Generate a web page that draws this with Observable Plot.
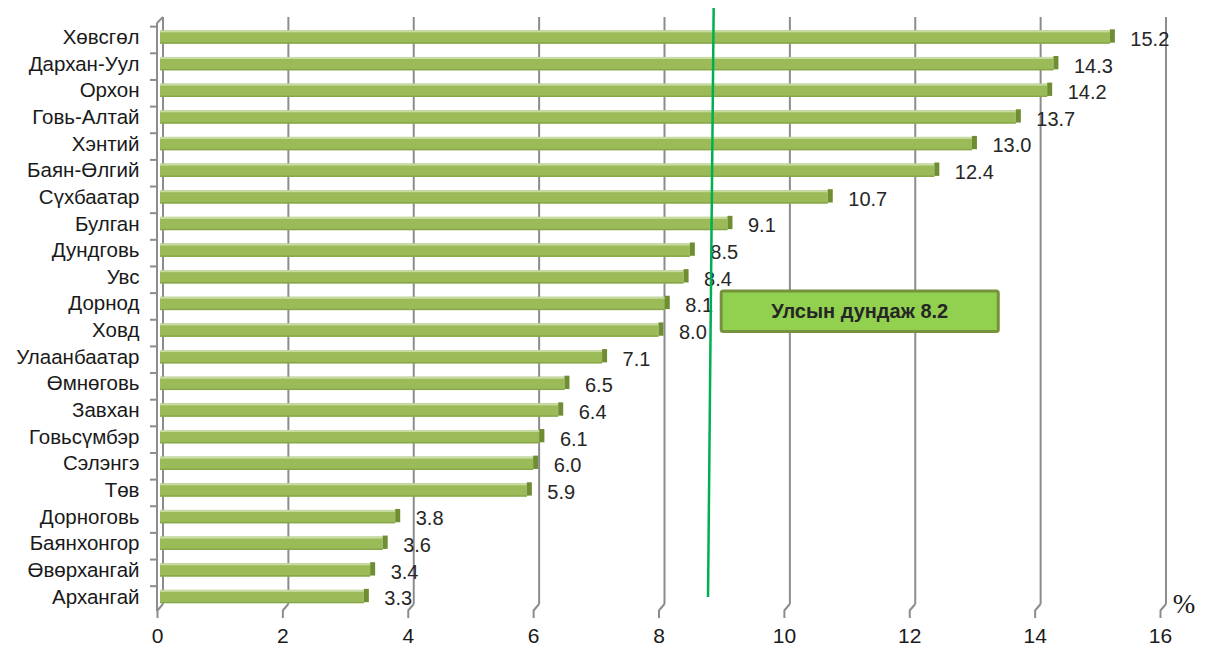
<!DOCTYPE html>
<html>
<head>
<meta charset="utf-8">
<script src="https://cdn.jsdelivr.net/npm/d3@7"></script>
<script src="https://cdn.jsdelivr.net/npm/@observablehq/plot@0.6"></script>
<style>
  html, body { margin: 0; padding: 0; background: #fff; }
  svg { display: block; }
</style>
</head>
<body>
<div id="chart"></div>
<script>
const regions = ["Хөвсгөл","Дархан-Уул","Орхон","Говь-Алтай","Хэнтий","Баян-Өлгий","Сүхбаатар","Булган","Дундговь","Увс","Дорнод","Ховд","Улаанбаатар","Өмнөговь","Завхан","Говьсүмбэр","Сэлэнгэ","Төв","Дорноговь","Баянхонгор","Өвөрхангай","Архангай"];
const values = [15.2,14.3,14.2,13.7,13.0,12.4,10.7,9.1,8.5,8.4,8.1,8.0,7.1,6.5,6.4,6.1,6.0,5.9,3.8,3.6,3.4,3.3];
const xTicks = [0,2,4,6,8,10,12,14,16];
const averageValue = 8.2;
const averageLabel = "Улсын дундаж " + averageValue.toFixed(1);
// where the green average line is drawn in the picture (top, bottom), in axis units
const averageLineTop = 8.88;
const averageLineBottom = 8.79;
// where the average label box sits, in axis units
const averageBoxX = [9.0, 13.42];
const unitLabel = "%";

const data = regions.map((r, i) => ({region: r, value: values[i]}));

const chart = Plot.plot({
  width: 1208,
  height: 648,
  marginLeft: 157,
  marginRight: 48,
  marginTop: 24,
  marginBottom: 37,
  style: {fontFamily: "Liberation Sans, Arial, sans-serif", background: "#fff"},
  x: {domain: [0, 16], ticks: xTicks, tickFormat: d => String(d), label: null},
  y: {domain: regions, padding: 0.5, round: false, range: [17, 616.5], label: null},
  marks: [
    Plot.axisX({ticks: xTicks, label: null, tickSize: 7, tickPadding: 10, fontSize: 21, stroke: "#8c8c8c", strokeWidth: 2, color: "#1a1a1a"}),
    Plot.axisY({label: null, tickSize: 0, tickPadding: 18, fontSize: 20.5, color: "#1a1a1a"}),
    // bar body
    Plot.barX(data, {x1: 0, x2: "value", y: "region", fill: "#9bbb59", insetLeft: 3}),
    // top highlight
    Plot.barX(data, {x1: 0, x2: "value", y: "region", fill: "#c9dba4", insetLeft: 3, insetBottom: 11.3}),
    // bottom shade
    Plot.barX(data, {x1: 0, x2: "value", y: "region", fill: "#86a448", insetLeft: 3, insetTop: 12}),
    // end cap
    Plot.barX(data, {x1: "value", x2: "value", y: "region", fill: "#6f8d32", insetRight: -5, insetTop: -1, insetBottom: 1}),
    Plot.text(data, {x: "value", y: "region", text: d => d.value.toFixed(1), textAnchor: "start", dx: 20, dy: 2, fontSize: 20, fill: "#262626"})
  ]
});

const svg = d3.select(chart);
const x = chart.scale("x");
const y = chart.scale("y");
const frontBottom = 611, backBottom = 604, backTop = 17, depth = 6;
const g = svg.insert("g", ":first-child").attr("stroke", "#8c8c8c").attr("stroke-width", 2).attr("fill", "none");
// back wall gridlines + floor diagonals
for (const t of xTicks) {
  const px = x.apply(t);
  g.append("line").attr("x1", px + depth).attr("x2", px + depth).attr("y1", backTop).attr("y2", backBottom);
  g.append("line").attr("x1", px).attr("x2", px + depth).attr("y1", frontBottom).attr("y2", backBottom);
}
// left front edge and top diagonal
const x0 = x.apply(0);
g.append("line").attr("x1", x0).attr("x2", x0).attr("y1", backTop + depth).attr("y2", frontBottom);
g.append("line").attr("x1", x0).attr("x2", x0 + depth).attr("y1", backTop + depth).attr("y2", backTop);
// left boundary ticks
const bw = y.bandwidth;
const firstCenter = y.apply(regions[0]) + bw / 2;
const stepPx = (y.apply(regions[regions.length - 1]) - y.apply(regions[0])) / (regions.length - 1);
for (let i = 0; i <= regions.length; i++) {
  const py = firstCenter - stepPx / 2 + i * stepPx + 3;
  if (py > frontBottom + 1) continue;
  g.append("line").attr("x1", x0 - 7).attr("x2", x0).attr("y1", py).attr("y2", py);
}

// average line
svg.append("line")
  .attr("x1", x.apply(averageLineTop)).attr("y1", 8)
  .attr("x2", x.apply(averageLineBottom)).attr("y2", 597)
  .attr("stroke", "#00b050").attr("stroke-width", 2.5);

// average label box
const dornodC = y.apply("Дорнод") + bw / 2;
const hovdC = y.apply("Ховд") + bw / 2;
const bx1 = x.apply(averageBoxX[0]), bx2 = x.apply(averageBoxX[1]);
const by1 = dornodC - 12.5, by2 = hovdC + 1.5;
svg.append("rect")
  .attr("x", bx1).attr("y", by1).attr("width", bx2 - bx1).attr("height", by2 - by1)
  .attr("rx", 2).attr("fill", "#92d050").attr("stroke", "#76923c").attr("stroke-width", 3);
svg.append("text")
  .attr("x", (bx1 + bx2) / 2).attr("y", (by1 + by2) / 2).attr("dy", "0.35em")
  .attr("text-anchor", "middle").attr("font-size", 20).attr("font-weight", "bold")
  .attr("font-family", "Liberation Sans, Arial, sans-serif").attr("fill", "#262626")
  .text(averageLabel);

// unit label
svg.append("text")
  .attr("x", x.apply(16) + 24).attr("y", 604).attr("dy", "0.35em")
  .attr("font-size", 27).attr("font-family", "Liberation Serif, Times New Roman, serif")
  .attr("fill", "#1a1a1a").text(unitLabel);

document.getElementById("chart").appendChild(chart);
</script>
</body>
</html>
